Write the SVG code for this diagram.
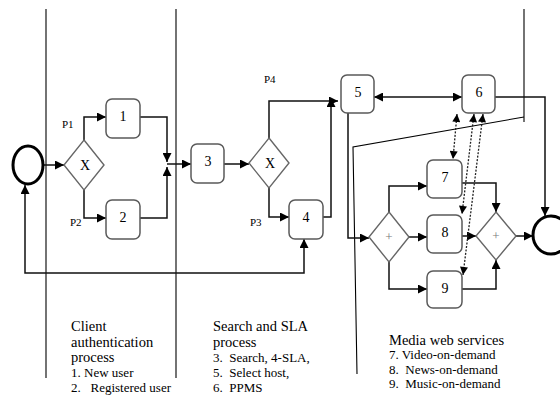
<svg xmlns="http://www.w3.org/2000/svg" width="560" height="395" viewBox="0 0 560 395">
<style>
.lane{stroke:#000;stroke-width:1.1;fill:none}
.box{fill:#fff;stroke:#5a5a5a;stroke-width:1.5}
.gw{fill:#fff;stroke:#666;stroke-width:1.4}
.ev{fill:#fff;stroke:#000;stroke-width:3}
.c{fill:none;stroke:#111;stroke-width:1.5}
.d{fill:none;stroke:#222;stroke-width:1.3;stroke-dasharray:2,1.5}
text{font-family:"Liberation Serif","Times New Roman","DejaVu Serif",serif;fill:#000}
.num{font-size:14px;text-anchor:middle}
.plus{font-size:13px;text-anchor:middle;fill:#777}
.p{font-size:11px}
.h{font-size:14.5px}
.s{font-size:13px}
</style>
<defs>
<marker id="a" viewBox="0 0 10 10" refX="10" refY="5" markerWidth="10" markerHeight="9" markerUnits="userSpaceOnUse" orient="auto-start-reverse"><path d="M0,0 L10,5 L0,10 z" fill="#000"/></marker>
<marker id="b" viewBox="0 0 10 10" refX="10" refY="5" markerWidth="9" markerHeight="8" markerUnits="userSpaceOnUse" orient="auto-start-reverse"><path d="M0,0 L10,5 L0,10 z" fill="#000"/></marker>
</defs>
<rect width="560" height="395" fill="#fff"/>
<g id="lanes">
<line class="lane" x1="46" y1="9" x2="46" y2="378"/>
<line class="lane" x1="176" y1="9" x2="176" y2="378"/>
<polyline class="lane" points="524,9 524,122"/>
<polyline class="lane" points="524,117 353,147 357,374"/>
</g>
<g id="connectors">
<path class="c" d="M43,165 H64" marker-end="url(#a)"/>
<path class="c" d="M84,140 V117 H106" marker-end="url(#a)"/>
<path class="c" d="M84,190 V218 H106" marker-end="url(#a)"/>
<path class="c" d="M140,117 H167 V162" marker-end="url(#a)"/>
<path class="c" d="M140,218 H167 V167" marker-end="url(#a)"/>
<path class="c" d="M167,164 H191" marker-end="url(#a)"/>
<path class="c" d="M224,164 H249" marker-end="url(#a)"/>
<path class="c" d="M269,138 V101 H338" marker-end="url(#a)"/>
<path class="c" d="M269,188 V217 H289" marker-end="url(#a)"/>
<path class="c" d="M323,217 H331 V98" marker-end="url(#a)"/>
<path class="c" d="M25,185 V273 H304 V239" marker-start="url(#a)" marker-end="url(#a)"/>
<path class="c" d="M374,97 H462" marker-start="url(#a)" marker-end="url(#a)"/>
<path class="c" d="M495,97 H545 V216" marker-end="url(#a)"/>
<path class="c" d="M348,113 V238 H369" marker-end="url(#a)"/>
<path class="c" d="M389,212 V186 H427" marker-end="url(#a)"/>
<path class="c" d="M409,237 H427" marker-end="url(#a)"/>
<path class="c" d="M389,262 V289 H427" marker-end="url(#a)"/>
<path class="c" d="M462,183 H496 V212" marker-end="url(#a)"/>
<path class="c" d="M462,236 H476" marker-end="url(#a)"/>
<path class="c" d="M462,289 H496 V260" marker-end="url(#a)"/>
<path class="c" d="M516,236 H533" marker-end="url(#a)"/>
<path class="d" d="M457,114 L453,159" marker-start="url(#b)" marker-end="url(#b)"/>
<path class="d" d="M474,114 L462,214" marker-start="url(#b)" marker-end="url(#b)"/>
<path class="d" d="M483,114 L463,275" marker-start="url(#b)" marker-end="url(#b)"/>
</g>
<g id="start"><ellipse class="ev" cx="28" cy="165" rx="15" ry="19"/></g>
<g id="end"><ellipse class="ev" cx="551" cy="235" rx="18" ry="19"/></g>
<g id="gw1"><path class="gw" d="M84,140 L104,165 L84,190 L64,165 Z"/><text class="num" x="85" y="170">X</text></g>
<g id="gw2"><path class="gw" d="M269,138 L289,163 L269,188 L249,163 Z"/><text class="num" x="270" y="168">X</text></g>
<g id="gw3"><path class="gw" d="M389,212 L409,237 L389,262 L369,237 Z"/><text class="plus" x="389" y="241">+</text></g>
<g id="gw4"><path class="gw" d="M496,212 L516,236 L496,260 L476,236 Z"/><text class="plus" x="496" y="240">+</text></g>
<g id="t1"><rect class="box" x="106" y="99" width="34" height="39" rx="6"/><text class="num" x="123" y="121">1</text></g>
<g id="t2"><rect class="box" x="106" y="200" width="34" height="39" rx="6"/><text class="num" x="123" y="222">2</text></g>
<g id="t3"><rect class="box" x="191" y="144" width="33" height="39" rx="6"/><text class="num" x="208" y="166">3</text></g>
<g id="t4"><rect class="box" x="289" y="200" width="34" height="39" rx="6"/><text class="num" x="306" y="222">4</text></g>
<g id="t5"><rect class="box" x="341" y="75" width="33" height="38" rx="6"/><text class="num" x="358" y="97">5</text></g>
<g id="t6"><rect class="box" x="462" y="75" width="33" height="38" rx="6"/><text class="num" x="479" y="97">6</text></g>
<g id="t7"><rect class="box" x="427" y="160" width="35" height="38" rx="6"/><text class="num" x="445" y="182">7</text></g>
<g id="t8"><rect class="box" x="427" y="215" width="35" height="38" rx="6"/><text class="num" x="445" y="237">8</text></g>
<g id="t9"><rect class="box" x="427" y="271" width="35" height="37" rx="6"/><text class="num" x="445" y="293">9</text></g>
<g id="plabels">
<text class="p" x="62" y="128">P1</text>
<text class="p" x="70" y="226">P2</text>
<text class="p" x="250" y="226">P3</text>
<text class="p" x="264" y="83">P4</text>
</g>
<g id="legend1">
<text class="h" x="71" y="331">Client</text>
<text class="h" x="71" y="347">authentication</text>
<text class="h" x="71" y="362">process</text>
<text class="s" x="71" y="377">1. New user</text>
<text class="s" x="71" y="392" xml:space="preserve">2.   Registered user</text>
</g>
<g id="legend2">
<text class="h" x="213" y="331">Search and SLA</text>
<text class="h" x="213" y="347">process</text>
<text class="s" x="213" y="362" xml:space="preserve">3.  Search, 4-SLA,</text>
<text class="s" x="213" y="377" xml:space="preserve">5.  Select host,</text>
<text class="s" x="213" y="392" xml:space="preserve">6.  PPMS</text>
</g>
<g id="legend3">
<text class="h" x="389" y="345">Media web services</text>
<text class="s" x="389" y="359">7. Video-on-demand</text>
<text class="s" x="389" y="374" xml:space="preserve">8.  News-on-demand</text>
<text class="s" x="389" y="388" xml:space="preserve">9.  Music-on-demand</text>
</g>
</svg>
